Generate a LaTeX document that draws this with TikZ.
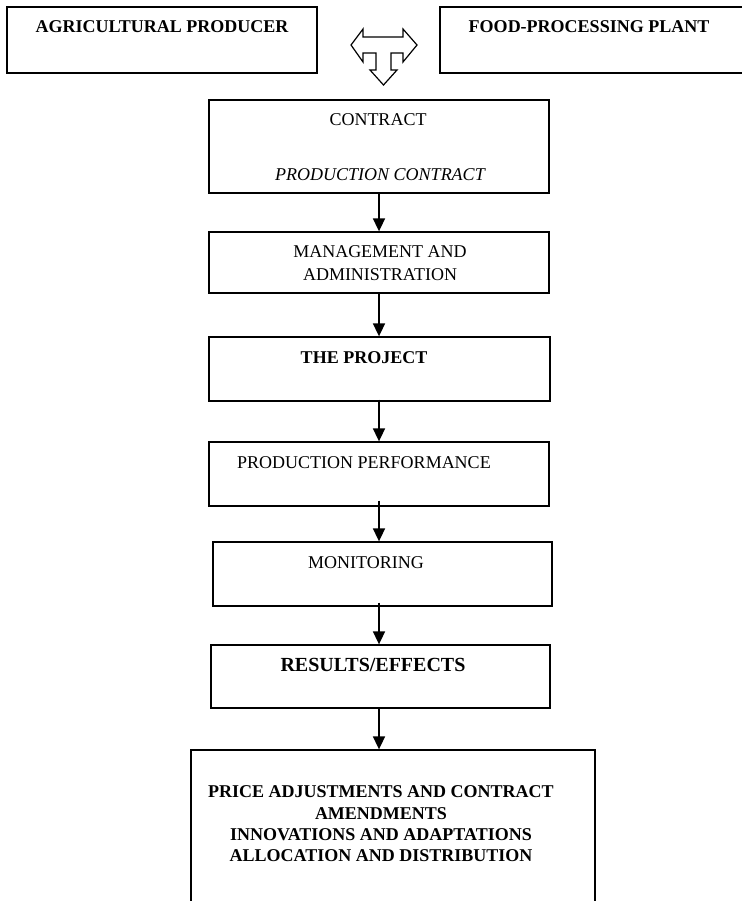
\documentclass[tikz,border=0pt]{standalone}
\usepackage{fontspec}
\setmainfont{Liberation Serif}
\usetikzlibrary{arrows.meta, positioning}

\tikzset{
    box/.style={draw, line width=1.3pt, inner sep=0pt},
    txt/.style={inner sep=0pt, anchor=base, font=\fontsize{18}{21.3}\selectfont},
    btxt/.style={txt, font=\fontsize{18}{21.3}\selectfont\bfseries},
    flow/.style={line width=1.7pt, -{Triangle[length=13pt, width=12pt]}}
}

\begin{document}
\begin{tikzpicture}[x=1pt, y=-1pt]
    \useasboundingbox (0,0) rectangle (741,901);

    % the two parties
    \node[box, minimum width=310pt, minimum height=66pt] (prod) at (162,40) {};
    \node[btxt] (prodT) at (162,33) {AGRICULTURAL PRODUCER};
    \node[box, minimum width=305pt, minimum height=66pt] (plant) at (592.5,40) {};
    \node[btxt] (plantT) at (589,33) {FOOD-PROCESSING PLANT};

    % T arrow between them
    \draw[line width=1.2pt, line join=miter]
        (351,45) -- (363,29) -- (363,37) -- (403,37) -- (403,29) -- (417,45)
        -- (403,62) -- (403,53) -- (391,53) -- (391,70) -- (397,70) -- (383.5,85)
        -- (370,70) -- (376,70) -- (376,53) -- (363,53) -- (363,62) -- cycle;

    % contract
    \node[box, minimum width=340pt, minimum height=93pt] (contract) at (379,146.5) {};
    \node[txt] (contractT) at (378,126) {CONTRACT};
    \node[txt, font=\fontsize{18}{21.3}\selectfont\itshape] (contractS) at (380,181) {PRODUCTION CONTRACT};

    % management
    \node[box, minimum width=340pt, minimum height=61pt] (mgmt) at (379,262.5) {};
    \node[txt, anchor=center, align=center, font=\fontsize{18}{23}\selectfont] (mgmtT) at (380,263.5) {MANAGEMENT AND\\ADMINISTRATION};

    % project
    \node[box, minimum width=341pt, minimum height=64pt] (project) at (379.5,369) {};
    \node[btxt] (projectT) at (364,363) {THE PROJECT};

    % performance
    \node[box, minimum width=340pt, minimum height=64pt] (perf) at (379,474) {};
    \node[txt] (perfT) at (364,468) {PRODUCTION PERFORMANCE};

    % monitoring
    \node[box, minimum width=339pt, minimum height=64pt] (monit) at (382.5,574) {};
    \node[txt] (monitT) at (366,568) {MONITORING};

    % results
    \node[box, minimum width=339pt, minimum height=63pt] (results) at (380.5,676.5) {};
    \node[btxt, font=\fontsize{20}{24}\selectfont\bfseries] (resultsT) at (373,671.6) {RESULTS/EFFECTS};

    % outcome
    \node[box, minimum width=404pt, minimum height=180pt] (outcome) at (393,840) {};
    \node[btxt, anchor=center, align=center] (outcomeT) at (381,824)
        {PRICE ADJUSTMENTS AND CONTRACT\\AMENDMENTS\\INNOVATIONS AND ADAPTATIONS\\ALLOCATION AND DISTRIBUTION};

    % flow arrows
    \coordinate (ax) at (379,0);
    \draw[flow] (ax |- contract.south) -- (ax |- mgmt.north);
    \draw[flow] (ax |- mgmt.south) -- (ax |- project.north);
    \draw[flow, shorten <=-2pt] (ax |- project.south) -- (ax |- perf.north);
    \draw[flow, shorten <=-6pt] (ax |- perf.south) -- (ax |- monit.north);
    \draw[flow, shorten <=-4pt] (ax |- monit.south) -- (ax |- results.north);
    \draw[flow] (ax |- results.south) -- (ax |- outcome.north);
\end{tikzpicture}
\end{document}
